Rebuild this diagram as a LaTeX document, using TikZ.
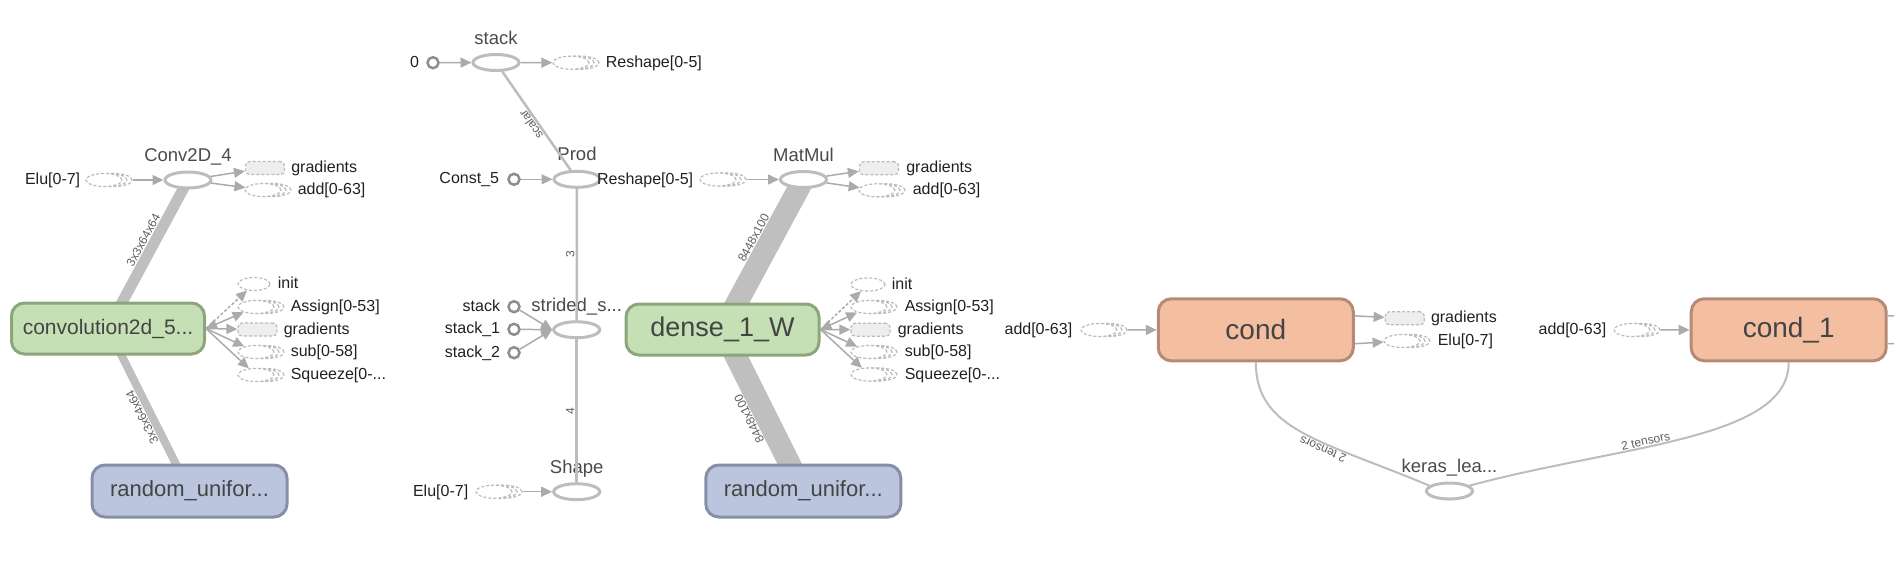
\documentclass[tikz,border=0pt]{standalone}
\usepackage{fontspec}
\setmainfont{Liberation Sans}
\usetikzlibrary{shapes.geometric,arrows.meta,shadows}
\pgfdeclarelayer{bars}
\pgfsetlayers{bars,main}

\definecolor{opline}{HTML}{BDBDBD}
\definecolor{cstline}{HTML}{8E8E8E}
\definecolor{stubline}{HTML}{BBBBBB}
\definecolor{gradfill}{HTML}{EEEEEE}
\definecolor{edgeline}{HTML}{ABABAB}
\definecolor{barline}{HTML}{BFBFBF}
\definecolor{varfill}{HTML}{C5E0B4}
\definecolor{varline}{HTML}{8CA57C}
\definecolor{rndfill}{HTML}{BBC6DE}
\definecolor{rndline}{HTML}{878FA6}
\definecolor{cndfill}{HTML}{F4BFA1}
\definecolor{cndline}{HTML}{B58A77}
\definecolor{nodetext}{HTML}{444444}
\definecolor{ttltext}{HTML}{4A4A4A}
\definecolor{lbltext}{HTML}{202020}
\definecolor{elbltext}{HTML}{5E5E5E}

\begin{document}
\begin{tikzpicture}[x=1pt,y=-1pt,
	op/.style={ellipse,draw=opline,line width=3pt,fill=white,minimum width=46pt,minimum height=16pt,inner sep=0pt},
	cst/.style={circle,draw=cstline,line width=2.5pt,fill=white,minimum size=11pt,inner sep=0pt},
	stub/.style={ellipse,draw=stubline,dash pattern=on 3pt off 2pt,line width=1.2pt,fill=white,minimum width=36pt,minimum height=13pt,inner sep=0pt},
	series/.style={stub,
		copy shadow={shadow xshift=10pt,shadow yshift=0pt,draw=stubline,dash pattern=on 3pt off 2pt,line width=1.2pt,fill=white},
		copy shadow={shadow xshift=5pt,shadow yshift=0pt,draw=stubline,dash pattern=on 3pt off 2pt,line width=1.2pt,fill=white}},
	gradstub/.style={rectangle,rounded corners=4pt,draw=stubline,dash pattern=on 3pt off 2pt,line width=1.2pt,fill=gradfill,minimum width=39pt,minimum height=13pt,inner sep=0pt},
	var/.style={rectangle,rounded corners=13pt,draw=varline,fill=varfill,line width=3pt,minimum width=193pt,minimum height=51pt,inner sep=0pt,text=nodetext},
	rnd/.style={rectangle,rounded corners=13pt,draw=rndline,fill=rndfill,line width=3pt,minimum width=195pt,minimum height=52pt,inner sep=0pt,text=nodetext,font=\fontsize{22}{22}\selectfont},
	cnd/.style={rectangle,rounded corners=13pt,draw=cndline,fill=cndfill,line width=3pt,minimum width=195pt,minimum height=62pt,inner sep=0pt,text=nodetext,font=\fontsize{28}{28}\selectfont},
	ttl/.style={font=\fontsize{18.5}{18.5}\selectfont,text=ttltext,inner sep=0pt,anchor=base,label distance=9pt},
	lbl/.style={font=\fontsize{16}{16}\selectfont,text=lbltext,inner sep=2pt,text height=12pt,text depth=3pt},
	elbl/.style={font=\fontsize{12}{12}\selectfont,text=elbltext,inner sep=1pt,sloped,allow upside down,above},
	flow/.style={draw=edgeline,line width=1.5pt,-{Triangle[length=11pt,width=10pt]}},
	ref/.style={draw=edgeline,line width=1.5pt,{Triangle[length=11pt,width=10pt]}-{Triangle[length=11pt,width=10pt]}},
	link/.style={draw=opline,line width=2.5pt},
	bar/.style={draw=barline,line width=#1}]

	\useasboundingbox (0,0) rectangle (1894,563);
	\clip (0,0) rectangle (1894,563);

	% Conv2D_4
	\node[op,label={[ttl]above:{Conv2D\_4}}] (conv4) at (188,180) {};
	\node[series,label={[lbl,label distance=3pt]left:{Elu[0-7]}}] (elu1) at (104,180) {};
	\node[gradstub,label={[lbl,label distance=4pt]right:gradients}] (grad1) at (265,168) {};
	\node[series,label={[lbl,label distance=14pt]right:{add[0-63]}}] (add1) at (263,190) {};
	\draw[flow,shorten <=10pt] (elu1) -- (conv4);
	\draw[flow] (conv4) -- (grad1);
	\draw[flow] (conv4) -- (add1);

	% convolution2d_5 variable
	\node[var,font=\fontsize{21}{21}\selectfont] (conv5) at (108,328.5) {convolution2d\_5...};
	\node[stub,minimum width=32pt,label={[lbl,label distance=5pt]right:init}] (init5) at (254,284) {};
	\node[series,label={[lbl,label distance=14pt]right:{Assign[0-53]}}] (asg5) at (256,307) {};
	\node[gradstub,label={[lbl,label distance=4pt]right:gradients}] (grad5) at (257.5,329.5) {};
	\node[series,label={[lbl,label distance=14pt]right:{sub[0-58]}}] (sub5) at (256,352) {};
	\node[series,label={[lbl,label distance=14pt]right:{Squeeze[0-...}}] (sqz5) at (256,375) {};
	\draw[flow,dash pattern=on 3pt off 2pt] (conv5.east) -- (init5);
	\draw[ref] (conv5.east) -- (asg5);
	\draw[flow] (conv5.east) -- (grad5);
	\draw[flow] (conv5.east) -- (sub5);
	\draw[flow] (conv5.east) -- (sqz5);

	\node[rnd] (rnd1) at (189.5,491) {random\_unifor...};

	\begin{pgfonlayer}{bars}
	\draw[bar=11pt] (conv5.center) -- node[elbl,pos=.56]{3x3x64x64} (conv4.center);
	\draw[bar=8pt] (rnd1.center) -- node[elbl,pos=.48]{3x3x64x64} (conv5.center);
	\end{pgfonlayer}

	% stack / Prod
	\node[op,label={[ttl]above:stack}] (stack) at (496,62.5) {};
	\node[cst,label={[lbl,label distance=5pt]left:0}] (c0) at (433,62.7) {};
	\node[series,label={[lbl,label distance=14pt]right:{Reshape[0-5]}}] (rsh1) at (571,62.7) {};
	\draw[flow] (c0) -- (stack);
	\draw[flow] (stack) -- (rsh1);

	\node[op,label={[ttl]above:Prod}] (prod) at (577,179.3) {};
	\node[cst,label={[lbl,label distance=6pt]left:{Const\_5}}] (cst5) at (514,179.3) {};
	\draw[flow] (cst5) -- (prod);
	\draw[link] (prod) -- node[elbl]{scalar} (stack);

	% strided_slice / Shape
	\node[op,label={[ttl]above:{strided\_s...}}] (strided) at (576.7,329.7) {};
	\node[cst,label={[lbl,label distance=5pt]left:stack}] (stk0) at (514,306.7) {};
	\node[cst,label={[lbl,label distance=5pt]left:{stack\_1}}] (stk1) at (514,329.3) {};
	\node[cst,label={[lbl,label distance=5pt]left:{stack\_2}}] (stk2) at (514,352.7) {};
	\draw[flow] (stk0) -- (strided.west);
	\draw[flow] (stk1) -- (strided.west);
	\draw[flow] (stk2) -- (strided.west);
	\draw[link] (strided) -- node[elbl]{3} (prod);

	\node[op,label={[ttl]above:Shape}] (shape) at (576.7,491.7) {};
	\node[series,label={[lbl,label distance=5pt]left:{Elu[0-7]}}] (elu2) at (494,491.7) {};
	\draw[flow,shorten <=10pt] (elu2) -- (shape);
	\draw[link] (shape) -- node[elbl]{4} (strided);

	% MatMul
	\node[op,label={[ttl]above:MatMul}] (matmul) at (803.5,179.5) {};
	\node[series,label={[lbl,label distance=4pt]left:{Reshape[0-5]}}] (rsh2) at (718,179.5) {};
	\node[gradstub,label={[lbl,label distance=5pt]right:gradients}] (grad2) at (879,168.3) {};
	\node[series,label={[lbl,label distance=15pt]right:{add[0-63]}}] (add2) at (877,190.3) {};
	\draw[flow,shorten <=10pt] (rsh2) -- (matmul);
	\draw[flow] (matmul) -- (grad2);
	\draw[flow] (matmul) -- (add2);

	% dense_1_W variable
	\node[var,font=\fontsize{27}{27}\selectfont] (dense) at (722.5,329.5) {dense\_1\_W};
	\node[stub,minimum width=34pt,label={[lbl,label distance=4pt]right:init}] (init2) at (868,284.5) {};
	\node[series,label={[lbl,label distance=15pt]right:{Assign[0-53]}}] (asg2) at (869,307) {};
	\node[gradstub,label={[lbl,label distance=5pt]right:gradients}] (grad3) at (870.5,329.7) {};
	\node[series,label={[lbl,label distance=15pt]right:{sub[0-58]}}] (sub2) at (869,352) {};
	\node[series,label={[lbl,label distance=15pt]right:{Squeeze[0-...}}] (sqz2) at (869,374.5) {};
	\draw[flow,dash pattern=on 3pt off 2pt] (dense.east) -- (init2);
	\draw[ref] (dense.east) -- (asg2);
	\draw[flow] (dense.east) -- (grad3);
	\draw[flow] (dense.east) -- (sub2);
	\draw[flow] (dense.east) -- (sqz2);

	\node[rnd] (rnd2) at (803.3,491) {random\_unifor...};

	\begin{pgfonlayer}{bars}
	\draw[bar=22pt] (dense.center) -- node[elbl,pos=.56]{8448x100} (matmul.center);
	\draw[bar=22pt] (rnd2.center) -- node[elbl,pos=.49]{8448x100} (dense.center);
	\end{pgfonlayer}

	% cond
	\node[cnd] (cond) at (1255.8,329.8) {cond};
	\node[series,label={[lbl,label distance=6pt]left:{add[0-63]}}] (add3) at (1099,330) {};
	\node[gradstub,label={[lbl,label distance=4pt]right:gradients}] (grad4) at (1404.7,318.3) {};
	\node[series,label={[lbl,label distance=15pt]right:{Elu[0-7]}}] (elu3) at (1402,341) {};
	\draw[flow,shorten <=10pt] (add3) -- (cond);
	\draw[flow] (cond.8) -- (grad4);
	\draw[flow] (cond.-8) -- (elu3);

	% cond_1
	\node[cnd] (cond1) at (1788.7,329.8) {cond\_1};
	\node[series,label={[lbl,label distance=5pt]left:{add[0-63]}}] (add4) at (1632,330) {};
	\coordinate (cut1) at (1940,316);
	\coordinate (cut2) at (1940,342);
	\draw[flow,shorten <=10pt] (add4) -- (cond1);
	\draw[flow] (cond1.8) -- (cut1);
	\draw[flow] (cond1.-8) -- (cut2);

	% keras_learning_phase
	\node[op,label={[ttl]above:{keras\_lea...}}] (keras) at (1449.5,491) {};
	\draw[link,line width=2pt] (keras.165) .. controls (1320,440) and (1256,430) .. node[elbl,pos=.38]{2 tensors} (cond.south);
	\draw[link,line width=2pt] (keras.15) .. controls (1620,445) and (1789,440) .. node[elbl,pos=.4]{2 tensors} (cond1.south);

\end{tikzpicture}
\end{document}
